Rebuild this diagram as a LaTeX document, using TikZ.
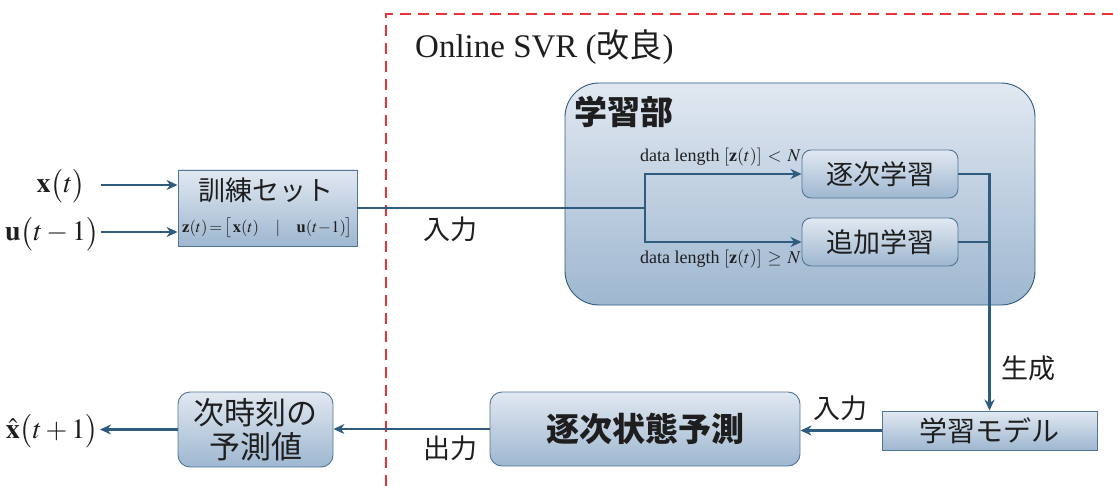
\documentclass[tikz,border=0pt]{standalone}
\usepackage{mathptmx}
\usepackage{fontspec}
\setmainfont{Liberation Serif}
\newfontfamily\jp{Noto Sans CJK JP}
\usetikzlibrary{arrows.meta}
\definecolor{linec}{RGB}{46,91,126}
\definecolor{borderc}{RGB}{80,118,148}
\definecolor{topc}{RGB}{225,232,241}
\definecolor{botc}{RGB}{158,183,208}
\definecolor{redd}{RGB}{232,50,55}
\definecolor{txt}{RGB}{30,30,30}
\begin{document}
\begin{tikzpicture}[x=1pt,y=-1pt,
  box/.style={draw=borderc,line width=0.9pt,top color=topc,bottom color=botc,inner sep=0pt,text=txt,align=center},
  rbox/.style={box,rounded corners=9pt},
  conn/.style={draw=linec,line width=2.4pt},
  arr/.style={conn,-{Stealth[length=11pt,width=10pt]}},
  jlab/.style={font=\jp\fontsize{27}{30}\selectfont,text=txt,inner sep=0pt},
  mlab/.style={font=\fontsize{28}{30}\selectfont,text=txt,inner sep=0pt},
  dlab/.style={font=\fontsize{18}{20}\selectfont,text=txt,inner sep=0pt}]
\useasboundingbox (0,0) rectangle (1113,486);
% dashed region
\draw[redd,line width=1.6pt,dash pattern=on 11pt off 7pt] (386,486) -- (386,14) -- (1113,14);
\node[anchor=west,inner sep=0pt,text=txt,font=\fontsize{33}{36}\selectfont] (title) at (415,47) {Online SVR ({\jp 改良})};
% learning part
\node[box,rounded corners=34pt,minimum width=470pt,minimum height=222pt,draw=linec] (gb) at (800,194) {};
\node[anchor=west,inner sep=0pt,text=txt,font=\jp\bfseries\fontsize{33}{36}\selectfont] (gbl) at (574,112) {学習部};
\node[rbox,minimum width=156pt,minimum height=48pt,font=\jp\fontsize{27}{30}\selectfont] (ck) at (880,174) {逐次学習};
\node[rbox,minimum width=156pt,minimum height=48pt,font=\jp\fontsize{27}{30}\selectfont] (tk) at (880,242) {追加学習};
\node[dlab,anchor=east] (dl1) at (801,157) {data length $[\mathbf{z}(t)]\,<\,N$};
\node[dlab,anchor=east] (dl2) at (801,259) {data length $[\mathbf{z}(t)]\,\geq\,N$};
% training set
\node[box,minimum width=179pt,minimum height=76pt] (kr) at (267.5,208) {};
\node[inner sep=0pt,text=txt,font=\jp\fontsize{27}{30}\selectfont] (krt) at (266,190) {訓練セット};
\node[inner sep=0pt,text=txt,font=\fontsize{16.5}{18}\selectfont] (krf) at (267.5,228) {$\mathbf{z}(t)\!=\!\bigl[\,\mathbf{x}(t)\quad|\quad\mathbf{u}(t\!-\!1)\bigr]$};
% inputs
\node[mlab] (xt) at (61,186) {$\mathbf{x}\bigl(t\bigr)$};
\node[mlab] (ut) at (52,234) {$\mathbf{u}\bigl(t-1\bigr)$};
\coordinate (xa) at (101,185);
\coordinate (ua) at (101,232);
\draw[arr] (xa) -- (xa -| kr.west);
\draw[arr] (ua) -- (ua -| kr.west);
% to learning
\coordinate (br) at (645,208);
\draw[conn] (kr.east) -- (br);
\draw[arr] (br) |- (ck.west);
\draw[arr] (br) |- (tk.west);
\node[jlab] (in1) at (450,229) {入力};
% model
\node[box,minimum width=215pt,minimum height=39pt,font=\jp\fontsize{28}{30}\selectfont] (md) at (989.5,430.5) {学習モデル};
\draw[arr] (ck.east) -| (md.north);
\draw[conn] (tk.east) -- (tk.east -| md.north);
\node[jlab] (gs) at (1028,368) {生成};
% prediction
\node[rbox,rounded corners=12pt,minimum width=310pt,minimum height=74pt,font=\jp\bfseries\fontsize{33}{36}\selectfont] (yk) at (645,429) {逐次状態予測};
\draw[arr] (md.west) -- (md.west -| yk.east);
\node[jlab] (in2) at (840,408) {入力};
\node[rbox,rounded corners=12pt,minimum width=155pt,minimum height=75pt,font=\jp\fontsize{31}{34}\selectfont] (nx) at (255.5,429.5) {次時刻の\\予測値};
\draw[arr] (yk.west) -- (yk.west -| nx.east);
\node[jlab] (out) at (450,448) {出力};
\node[mlab] (xh) at (52,431) {$\hat{\mathbf{x}}\bigl(t+1\bigr)$};
\coordinate (xo) at (100,430);
\draw[arr] (nx.west) -- (nx.west -| xo);
\end{tikzpicture}
\end{document}
